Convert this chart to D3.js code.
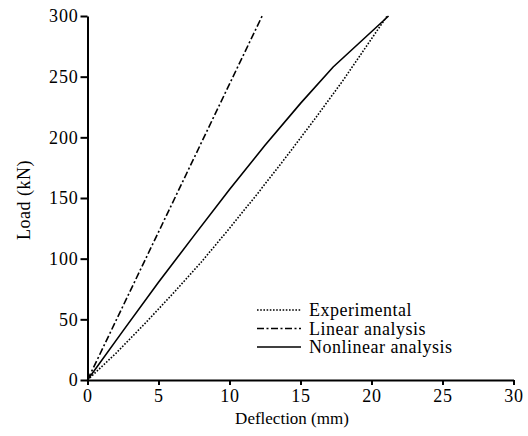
<!DOCTYPE html>
<html><head><meta charset="utf-8">
<script src="https://cdn.jsdelivr.net/npm/d3@7/dist/d3.min.js"></script>
<style>body{margin:0;background:#fff}svg text{font-family:"Liberation Serif","Times New Roman",serif;fill:#000}</style>
</head><body><svg id="c" width="528" height="436"></svg>
<script>
const xTicks = [0, 5, 10, 15, 20, 25, 30];
const yTicks = [0, 50, 100, 150, 200, 250, 300];
const seriesNames = ["Experimental", "Linear analysis", "Nonlinear analysis"];
const experimentalX = [0, 2, 4, 6, 8, 10, 12, 14, 16, 18, 21.1];
const experimentalY = [0, 22, 46, 71, 97, 125, 154, 184, 215, 247, 300];
const linearX = [0, 12.3];
const linearY = [0, 300];
const nonlinearX = [0, 2.5, 5, 7.5, 10, 12.5, 15, 17.3, 21.2];
const nonlinearY = [0, 40.5, 80.5, 119, 157, 193.5, 228, 258, 300];

const svg = d3.select("#c");
const x = d3.scaleLinear().domain([0, 30]).range([87.5, 513.5]);
const y = d3.scaleLinear().domain([0, 300]).range([380, 16]);

const xa = svg.append("g").attr("transform", `translate(0,${y(0)})`)
  .call(d3.axisBottom(x).tickValues(xTicks).tickSize(5).tickSizeOuter(0).tickPadding(4));
const ya = svg.append("g").attr("transform", `translate(${x(0)},0)`)
  .call(d3.axisLeft(y).tickValues(yTicks).tickSize(7).tickSizeOuter(0).tickPadding(3));
[xa, ya].forEach(a => {
  a.selectAll("path.domain").attr("stroke", "#000").attr("stroke-width", 2);
  a.selectAll("line").attr("stroke", "#000").attr("stroke-width", 2);
  a.selectAll("text").attr("font-size", 18).attr("font-family", "Liberation Serif")
    .attr("fill", "#000").attr("letter-spacing", 0.8);
});
ya.selectAll("text").attr("dx", 1);

svg.append("text").attr("x", 292).attr("y", 424).attr("text-anchor", "middle")
  .attr("font-size", 17).text("Deflection (mm)");
svg.append("text").attr("transform", "translate(30,200) rotate(-90)").attr("text-anchor", "middle")
  .attr("font-size", 18).attr("letter-spacing", 0.5).text("Load (kN)");

const dashes = ["1.6,1.6", "7,2.5,2,2.5", null];
const data = [
  d3.zip(experimentalX, experimentalY),
  d3.zip(linearX, linearY),
  d3.zip(nonlinearX, nonlinearY)
];
const line = d3.line().x(d => x(d[0])).y(d => y(d[1]));
data.forEach((d, i) => {
  svg.append("path").datum(d).attr("d", line).attr("fill", "none")
    .attr("stroke", "#000").attr("stroke-width", 1.6)
    .attr("stroke-dasharray", dashes[i]);
});

const lg = svg.append("g");
seriesNames.forEach((n, i) => {
  const yy = 310 + i * 18.5;
  lg.append("line").attr("x1", 257).attr("x2", 301).attr("y1", yy).attr("y2", yy)
    .attr("stroke", "#000").attr("stroke-width", 1.6).attr("stroke-dasharray", dashes[i]);
  lg.append("text").attr("x", 309).attr("y", yy + 6).attr("font-size", 18)
    .attr("letter-spacing", 0.5).text(n);
});
</script></body></html>
